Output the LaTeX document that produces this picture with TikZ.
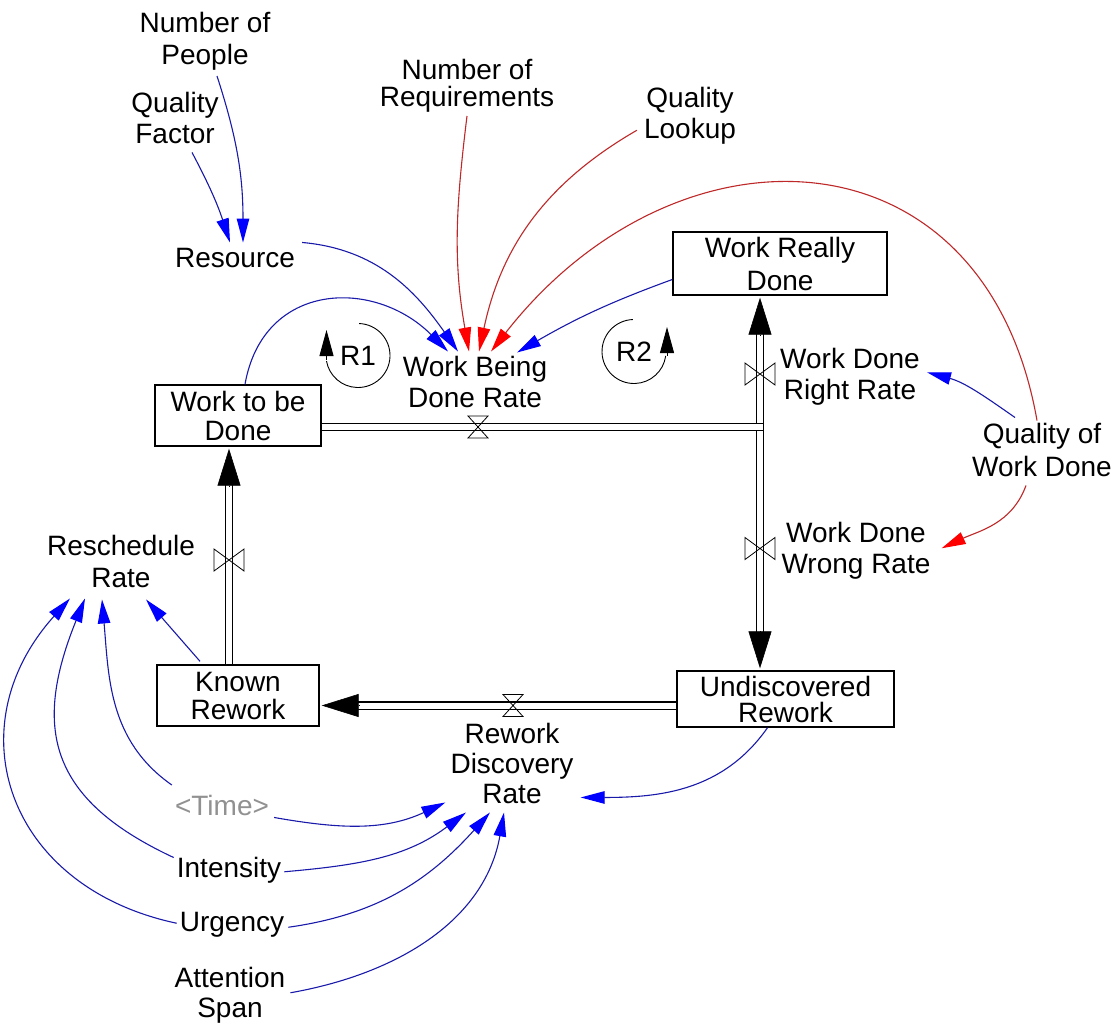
\documentclass[tikz,border=0pt]{standalone}
\usepackage{fontspec}
\setmainfont{Liberation Sans}
\usetikzlibrary{arrows.meta,calc}
\definecolor{lnblue}{RGB}{25,25,170}
\definecolor{hdblue}{RGB}{0,0,255}
\definecolor{lnred}{RGB}{190,40,40}
\definecolor{hdred}{RGB}{255,0,0}
\definecolor{shadowgray}{RGB}{145,145,145}
\begin{document}
\begin{tikzpicture}[x=1pt,y=1pt,
  every node/.style={font=\fontsize{28}{30}\selectfont, inner sep=3pt},
  lbl/.style={align=center, anchor=north},
  ls/.style={font=\fontsize{28}{#1}\selectfont},
  stock/.style={draw, line width=1.4pt, align=center, inner sep=0pt},
  pipe/.style={double=white, double distance=6pt, line width=1.4pt},
  pipehead/.style={-{Triangle[length=37pt,width=23pt]}, line width=0.6pt},
  bl/.style={lnblue, line width=1.1pt, -{Triangle[length=24pt,width=12.5pt,color=hdblue]}},
  rd/.style={lnred, line width=1.1pt, -{Triangle[length=24pt,width=12.5pt,color=hdred]}},
  loopln/.style={line width=0.9pt},
  loophead/.style={-{Triangle[length=26pt,width=14pt]}, line width=0.9pt},
  hourglass/.pic={\draw[line width=0.8pt] (-10,11) -- (10,11) -- (-10,-11) -- (10,-11) -- cycle;},
  bowtie/.pic={\draw[line width=0.8pt] (-15,11) -- (-15,-11) -- (15,11) -- (15,-11) -- cycle;},
]
\useasboundingbox (0,0) rectangle (1118,-1026);
\fill[white] (0,0) rectangle (1118,-1026);

% ---------- stocks ----------
\node[stock, ls=29, minimum width=166pt, minimum height=61pt] (wtbd) at (238,-415.5) {Work to be\\Done};
\node[stock, ls=33, minimum width=214pt, minimum height=63pt] (wrd) at (780,-263.5) {Work Really\\Done};
\node[stock, ls=28, minimum width=162pt, minimum height=61pt] (kr) at (238,-695.5) {Known\\Rework};
\node[stock, ls=26, minimum width=217pt, minimum height=56pt] (ur) at (785.5,-699) {Undiscovered\\Rework};

% ---------- labels ----------
\node[lbl, ls=32] (nop) at (205,-9.5) {Number of\\People};
\node[lbl, ls=31] (qf) at (175,-89.5) {Quality\\Factor};
\node[lbl] (res) at (235,-245.5) {Resource};
\node[lbl, ls=27] (nor) at (467,-56.5) {Number of\\Requirements};
\node[lbl, ls=31] (ql) at (690,-84.5) {Quality\\Lookup};
\node[lbl, ls=31] (wbdr) at (475,-353.5) {Work Being\\Done Rate};
\node[lbl, ls=31] (wdrr) at (850,-345.5) {Work Done\\Right Rate};
\node[lbl, ls=31] (wdwr) at (856,-518.5) {Work Done\\Wrong Rate};
\node[lbl, ls=33] (qwd) at (1042,-420.5) {Quality of\\Work Done};
\node[lbl, ls=32] (rr) at (121,-531.5) {Reschedule\\Rate};
\node[lbl, ls=30] (rdr) at (512,-719.5) {Rework\\Discovery\\Rate};
\node[lbl, text=shadowgray] (time) at (222,-791.5) {<Time>};
\node[lbl] (int) at (229,-853.5) {Intensity};
\node[lbl] (urg) at (232,-909.5) {Urgency};
\node[lbl, ls=30] (as) at (230,-963.5) {Attention\\Span};

% ---------- loop markers ----------
\node (r1) at (358,-355.5) {R1};
\node (r2) at (634,-351.5) {R2};
\draw[loopln] ($(r1)+(88:32pt)$) arc[start angle=88, end angle=-170, radius=32pt];
\draw[loophead] ($(r1)+(-31.5,-4)$) -- ($(r1)+(-31.5,25.5)$);
\draw[loopln] ($(r2)+(92:32pt)$) arc[start angle=92, end angle=352, radius=32pt];
\draw[loophead] ($(r2)+(33,-4)$) -- ($(r2)+(33,24.5)$);

% ---------- pipes ----------
\coordinate (jn) at (760,-427);
\draw[pipe] (jn) -- ($(jn |- wrd.south)+(0,-32)$);
\draw[pipehead] ($(jn |- wrd.south)+(0,-39)$) -- ($(jn |- wrd.south)+(0,-2)$);
\draw[pipe] (jn) -- ($(jn |- ur.north)+(0,32)$);
\draw[pipehead] ($(jn |- ur.north)+(0,39)$) -- ($(jn |- ur.north)+(0,2)$);
\draw[pipe] ($(wtbd.east)+(0,-11.5)$) -- ($(jn)+(4.4,0)$);
\draw[line width=1.4pt] ($(jn)+(3.7,4.4)$) -- ($(jn)+(3.7,-4.4)$);

\draw[pipe] ($(ur.west)+(0,-6.5)$) -- ($(kr.east)+(32,-10)$);
\draw[pipehead] ($(kr.east)+(39,-10)$) -- ($(kr.east)+(2,-10)$);

\draw[pipe] ($(kr.north)+(-9,0)$) -- ($(wtbd.south)+(-9,-32)$);
\draw[pipehead] ($(wtbd.south)+(-9,-39)$) -- ($(wtbd.south)+(-9,-2)$);

% ---------- valves ----------
\pic at (478,-427) {hourglass};
\pic at (513,-705.5) {hourglass};
\pic at (760,-374) {bowtie};
\pic at (760,-548.5) {bowtie};
\pic at (229,-560) {bowtie};

% ---------- connectors ----------
\draw[bl] ($(nop.south)+(12,-2)$) to[out=-72,in=90] ($(res.north)+(8,3)$);
\draw[bl] ($(qf.south)+(17,-5)$) to[out=-62,in=108] ($(res.north)+(-5,3)$);
\draw[bl] ($(res.east)+(4,16)$) to[out=-5,in=125] ($(wbdr.north)+(-17,2)$);
\draw[bl] ($(wtbd.north)+(7,0)$) to[out=80,in=135,looseness=1.3] ($(wbdr.north)+(-27,2)$);
\draw[rd] (nor.south) to[out=-97,in=100] ($(wbdr.north)+(-6,2)$);
\draw[rd] ($(ql.west)+(-4,-14)$) to[out=210,in=78] ($(wbdr.north)+(4,2)$);
\draw[rd] ($(qwd.north)+(-5,0)$) to[out=100,in=52,looseness=1.4] ($(wbdr.north)+(16,2)$);
\draw[bl] ($(wrd.west)+(0,-16)$) to[out=200,in=30] ($(wbdr.north)+(42,1)$);
\draw[bl] ($(qwd.north)+(-27,3)$) to[out=145,in=-15] ($(wdrr.east)+(4,5)$);
\draw[rd] ($(qwd.south)+(-16,-5)$) to[out=250,in=25] ($(wdwr.east)+(8,2)$);

\draw[bl] ($(kr.north)+(-38,3)$) -- ($(rr.south)+(25,-9)$);
\draw[bl] ($(time.north west)+(0,6.5)$) to[out=145,in=-85] ($(rr.south)+(-19,-9)$);
\draw[bl] ($(int.north west)+(0,-4)$) to[out=155,in=-112,looseness=1.3] ($(rr.south)+(-36,-8)$);
\draw[bl] ($(urg.west)+(0,2)$) to[out=168,in=-132,looseness=1.3] ($(rr.south)+(-51,-8)$);

\draw[bl] ($(time.south east)+(2,1)$) to[out=-10,in=205] ($(rdr.south west)+(-2,4)$);
\draw[bl] ($(int.east)+(0,-2)$) to[out=5,in=217] ($(rdr.south)+(-46,-6)$);
\draw[bl] ($(urg.east)+(1,-2)$) to[out=8,in=228] ($(rdr.south)+(-22,-6)$);
\draw[bl] ($(as.east)+(2,2)$) to[out=10,in=-100] ($(rdr.south)+(-8,-6)$);
\draw[bl] ($(ur.south)+(-18,0)$) to[out=235,in=0] ($(rdr.south east)+(4,9)$);
\end{tikzpicture}
\end{document}
